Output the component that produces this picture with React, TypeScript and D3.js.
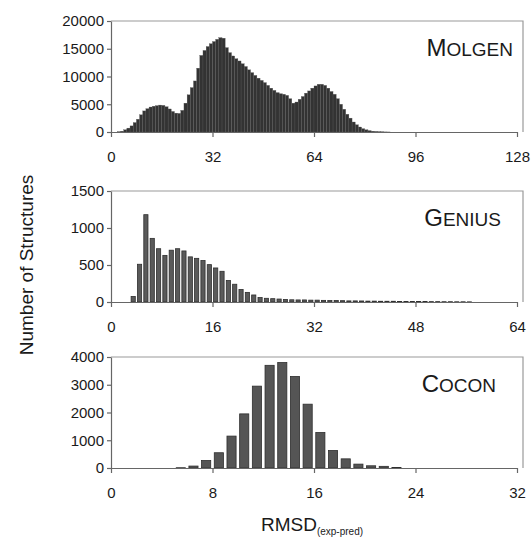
import { useEffect, useRef } from 'react';
import * as d3 from 'd3';

// Histogram counts, bin i covers [i, i+1)
const molgenCounts = [
  0, 0, 50, 150, 400, 700, 1100, 1700, 2300, 3100,
  3800, 4200, 4500, 4650, 4750, 4850, 4800, 4550, 4150, 3700,
  3400, 3350, 3900, 5200, 6700, 8000, 9200, 11500, 13800, 14700,
  15400, 15900, 16300, 16700, 17000, 16900, 15200, 14300, 13700, 13200,
  12800, 12300, 11800, 11200, 10700, 10200, 9700, 9300, 8900, 8400,
  7900, 7500, 7100, 6900, 6800, 6600, 6000, 5200, 5400, 5900,
  6400, 7000, 7400, 7900, 8300, 8600, 8600, 8400, 7900, 7300,
  6800, 6000, 5000, 4100, 3200, 2500, 1800, 1300, 900, 600,
  400, 250, 150, 100, 60, 40, 20, 10
];
const geniusCounts = [
  0, 0, 0, 75, 510, 1180, 860, 720, 630, 700,
  720, 690, 610, 590, 560, 505, 460, 415, 290, 240,
  170, 130, 95, 60, 50, 45, 40, 35, 30, 28,
  28, 25, 25, 22, 20, 20, 18, 15, 15, 14,
  12, 12, 10, 10, 10, 8, 8, 7, 6, 6,
  5, 5, 4, 4, 3, 3, 2
];
const coconCounts = [
  0, 0, 0, 0, 0, 10, 70, 270, 550, 1150,
  1950, 2950, 3700, 3800, 3300, 2300, 1280, 630, 330, 140,
  80, 60, 20
];

const molgenXTicks = [0, 32, 64, 96, 128];
const molgenYTicks = [0, 5000, 10000, 15000, 20000];
const geniusXTicks = [0, 16, 32, 48, 64];
const geniusYTicks = [0, 500, 1000, 1500];
const coconXTicks = [0, 8, 16, 24, 32];
const coconYTicks = [0, 1000, 2000, 3000, 4000];

const panels = [
  { name: ['M', 'OLGEN'], counts: molgenCounts, xMax: 128, yMax: 20000, xTicks: molgenXTicks, yTicks: molgenYTicks, top: 21, labelX: 513, bandFill: 1, fill: '#333333', stroke: '#5a5a5a' },
  { name: ['G', 'ENIUS'], counts: geniusCounts, xMax: 64, yMax: 1500, xTicks: geniusXTicks, yTicks: geniusYTicks, top: 191, labelX: 501, bandFill: 0.66, fill: '#5a5a5a', stroke: '#2e2e2e' },
  { name: ['C', 'OCON'], counts: coconCounts, xMax: 32, yMax: 4000, xTicks: coconXTicks, yTicks: coconYTicks, top: 357, labelX: 496, bandFill: 0.72, fill: '#555555', stroke: '#2e2e2e' },
];

export default function App() {
  const svgRef = useRef<SVGSVGElement>(null);

  useEffect(() => {
    const svg = d3.select(svgRef.current);
    svg.selectAll('*').remove();

    const left = 111;
    const right = 517;
    const boxRight = 523;
    const plotH = 111;
    const font = 'Arial, "Liberation Sans", sans-serif';

    panels.forEach(p => {
      const x = d3.scaleLinear().domain([0, p.xMax]).range([left, right]);
      const y = d3.scaleLinear().domain([0, p.yMax]).range([p.top + plotH, p.top]);
      const g = svg.append('g');

      // frame (top + right)
      g.append('path')
        .attr('d', `M${left},${p.top}H${boxRight}V${p.top + plotH}`)
        .attr('fill', 'none')
        .attr('stroke', '#9a9a9a')
        .attr('stroke-width', 1.2);

      // bars
      const step = x(1) - x(0);
      const w = step * p.bandFill;
      g.selectAll('rect')
        .data(p.counts)
        .enter()
        .append('rect')
        .attr('x', (d, i) => x(i + 0.5) - w / 2)
        .attr('width', w)
        .attr('y', d => y(d))
        .attr('height', d => y(0) - y(d))
        .attr('fill', p.fill)
        .attr('stroke', p.stroke)
        .attr('stroke-width', p.bandFill === 1 ? 0.3 : 0.8);

      // axes
      const xAxis = g.append('g')
        .attr('transform', `translate(0,${p.top + plotH})`)
        .call(d3.axisBottom(x).tickValues(p.xTicks).tickFormat(d3.format('d')).tickSize(5).tickPadding(14).tickSizeOuter(0));
      const yAxis = g.append('g')
        .attr('transform', `translate(${left},0)`)
        .call(d3.axisLeft(y).tickValues(p.yTicks).tickFormat(d3.format('d')).tickSize(4).tickPadding(3).tickSizeOuter(0));

      [xAxis, yAxis].forEach(a => {
        a.select('.domain').attr('stroke', '#666').attr('stroke-width', 1.2);
        a.selectAll('.tick line').attr('stroke', '#666').attr('stroke-width', 1.2);
        a.selectAll('text')
          .style('font-size', '15px')
          .style('font-family', font)
          .style('fill', '#1a1a1a');
      });

      // panel name in small caps
      const label = g.append('text')
        .attr('x', p.labelX)
        .attr('y', p.top + 35)
        .attr('text-anchor', 'end')
        .style('font-family', font)
        .style('fill', '#1a1a1a');
      label.append('tspan').style('font-size', '24px').text(p.name[0]);
      label.append('tspan').style('font-size', '19px').text(p.name[1]);
    });

    // y axis title
    svg.append('text')
      .attr('transform', 'translate(33,265) rotate(-90)')
      .attr('text-anchor', 'middle')
      .style('font-family', font)
      .style('font-size', '19px')
      .style('fill', '#1a1a1a')
      .text('Number of Structures');

    // x axis title
    const xt = svg.append('text')
      .attr('x', 312)
      .attr('y', 531)
      .attr('text-anchor', 'middle')
      .style('font-family', font)
      .style('fill', '#1a1a1a');
    xt.append('tspan').style('font-size', '19px').text('RMSD');
    xt.append('tspan').attr('dy', 4).style('font-size', '10px').text('(exp-pred)');
  }, []);

  return (
    <svg
      ref={svgRef}
      width={531}
      height={551}
      style={{ position: 'absolute', left: 0, top: 0, background: '#fff' }}
    />
  );
}
